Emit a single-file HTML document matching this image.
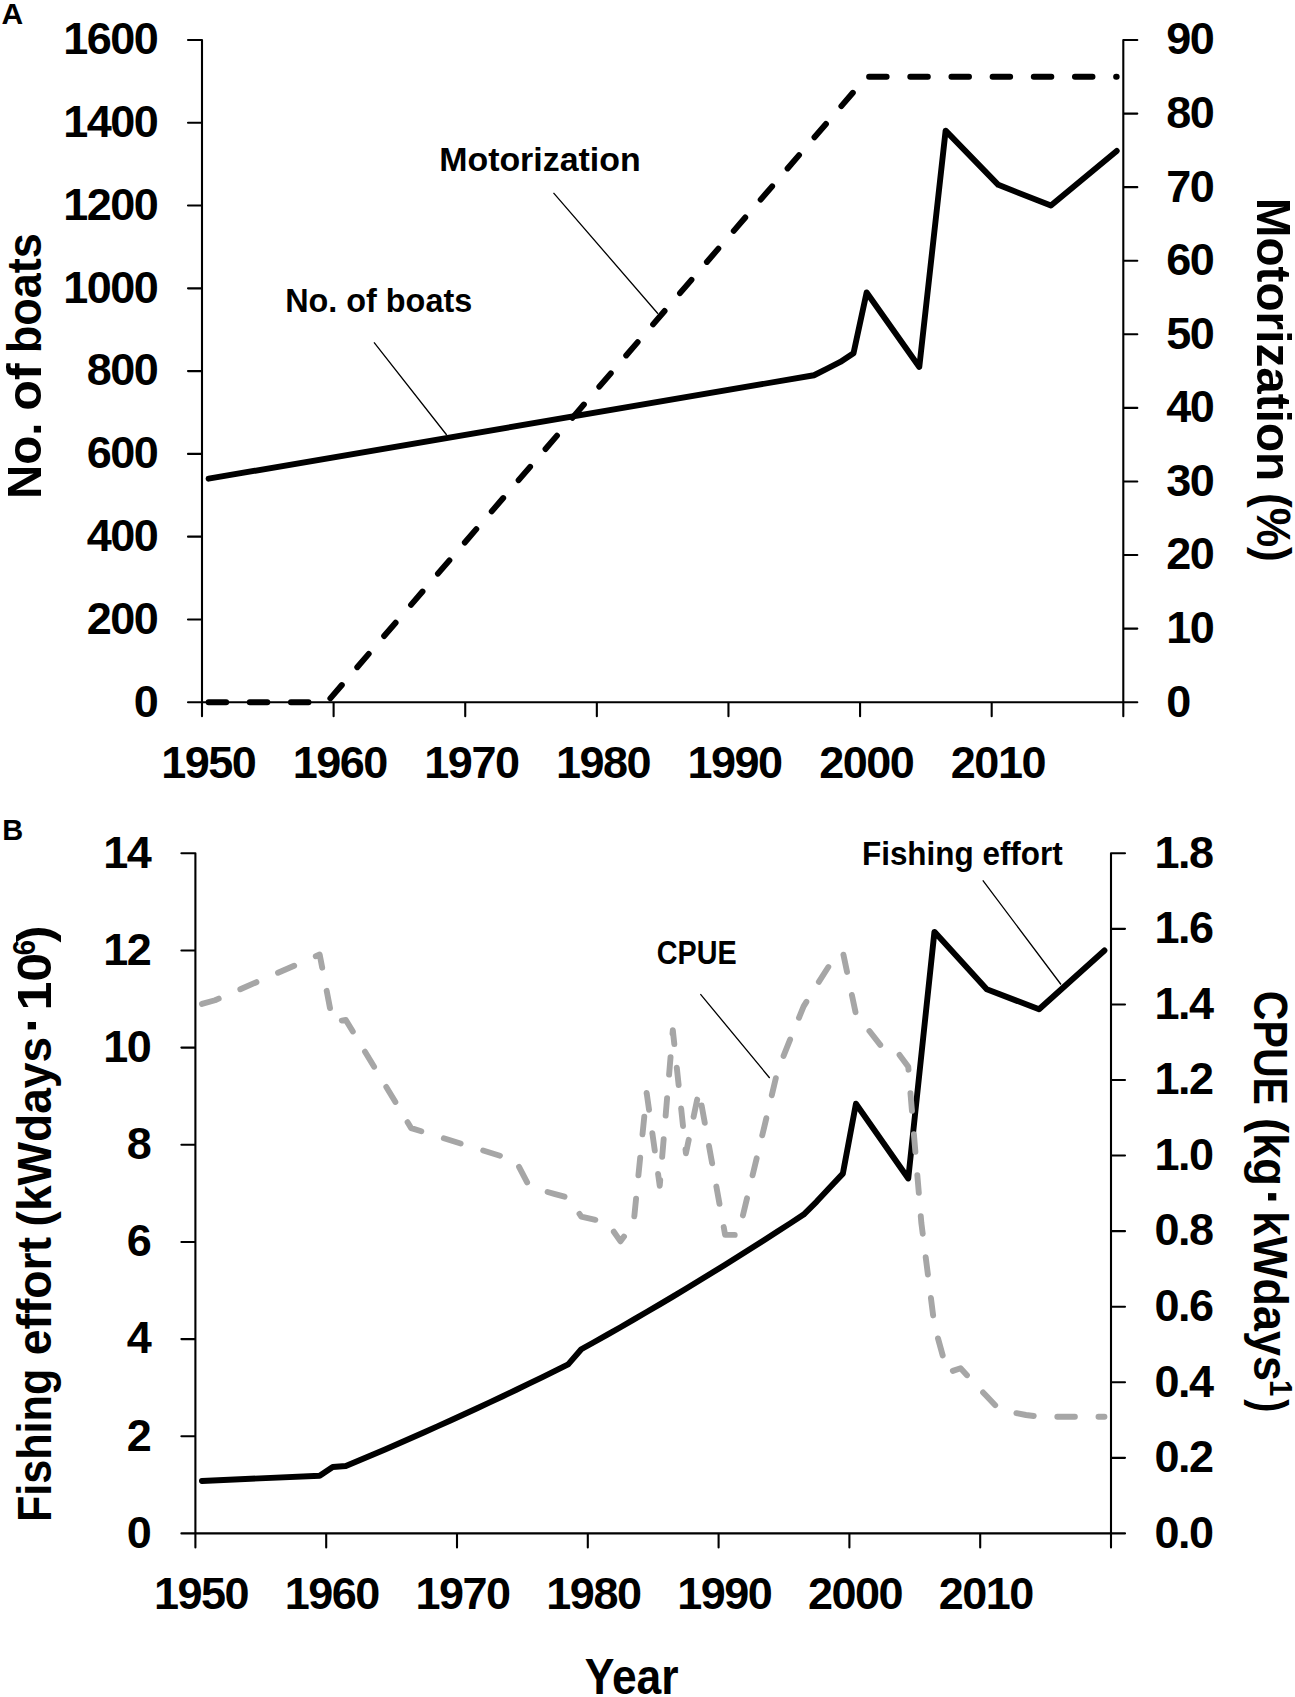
<!DOCTYPE html>
<html lang="en"><head><meta charset="utf-8"><title>Figure: boats, motorization, fishing effort and CPUE</title>
<style>html,body{margin:0;padding:0;background:#fff;overflow:hidden}svg{display:block}</style></head>
<body>
<svg width="1295" height="1697" viewBox="0 0 1295 1697" font-family="'Liberation Sans', Arial, Helvetica, sans-serif" font-weight="bold" fill="#000">
<rect width="1295" height="1697" fill="#fff"/>
<path d="M202.0,40.0V716.2M1123.3,40.0V716.2M188.0,702.2H1137.3M188.0,619.43H202.0M188.0,536.65H202.0M188.0,453.88H202.0M188.0,371.10H202.0M188.0,288.33H202.0M188.0,205.55H202.0M188.0,122.77H202.0M188.0,40.00H202.0M1123.3,628.62H1137.3M1123.3,555.04H1137.3M1123.3,481.47H1137.3M1123.3,407.89H1137.3M1123.3,334.31H1137.3M1123.3,260.73H1137.3M1123.3,187.16H1137.3M1123.3,113.58H1137.3M1123.3,40.00H1137.3M333.61,702.2V716.2M465.23,702.2V716.2M596.84,702.2V716.2M728.46,702.2V716.2M860.07,702.2V716.2M991.69,702.2V716.2" fill="none" stroke="#000" stroke-width="2.1" stroke-linecap="round"/>
<text x="157.3" y="716.5" font-size="45" text-anchor="end" letter-spacing="-1.5">0</text>
<text x="157.3" y="633.7" font-size="45" text-anchor="end" letter-spacing="-1.5">200</text>
<text x="157.3" y="551.0" font-size="45" text-anchor="end" letter-spacing="-1.5">400</text>
<text x="157.3" y="468.2" font-size="45" text-anchor="end" letter-spacing="-1.5">600</text>
<text x="157.3" y="385.4" font-size="45" text-anchor="end" letter-spacing="-1.5">800</text>
<text x="157.3" y="302.6" font-size="45" text-anchor="end" letter-spacing="-1.5">1000</text>
<text x="157.3" y="219.9" font-size="45" text-anchor="end" letter-spacing="-1.5">1200</text>
<text x="157.3" y="137.1" font-size="45" text-anchor="end" letter-spacing="-1.5">1400</text>
<text x="157.3" y="54.3" font-size="45" text-anchor="end" letter-spacing="-1.5">1600</text>
<text x="1166.3" y="716.5" font-size="45" text-anchor="start" letter-spacing="-1.5">0</text>
<text x="1166.3" y="642.9" font-size="45" text-anchor="start" letter-spacing="-1.5">10</text>
<text x="1166.3" y="569.3" font-size="45" text-anchor="start" letter-spacing="-1.5">20</text>
<text x="1166.3" y="495.8" font-size="45" text-anchor="start" letter-spacing="-1.5">30</text>
<text x="1166.3" y="422.2" font-size="45" text-anchor="start" letter-spacing="-1.5">40</text>
<text x="1166.3" y="348.6" font-size="45" text-anchor="start" letter-spacing="-1.5">50</text>
<text x="1166.3" y="275.0" font-size="45" text-anchor="start" letter-spacing="-1.5">60</text>
<text x="1166.3" y="201.5" font-size="45" text-anchor="start" letter-spacing="-1.5">70</text>
<text x="1166.3" y="127.9" font-size="45" text-anchor="start" letter-spacing="-1.5">80</text>
<text x="1166.3" y="54.3" font-size="45" text-anchor="start" letter-spacing="-1.5">90</text>
<text x="208.2" y="778" font-size="45" text-anchor="middle" letter-spacing="-1.5">1950</text>
<text x="201.0" y="1609" font-size="45" text-anchor="middle" letter-spacing="-1.5">1950</text>
<text x="339.8" y="778" font-size="45" text-anchor="middle" letter-spacing="-1.5">1960</text>
<text x="331.8" y="1609" font-size="45" text-anchor="middle" letter-spacing="-1.5">1960</text>
<text x="471.4" y="778" font-size="45" text-anchor="middle" letter-spacing="-1.5">1970</text>
<text x="462.6" y="1609" font-size="45" text-anchor="middle" letter-spacing="-1.5">1970</text>
<text x="603.0" y="778" font-size="45" text-anchor="middle" letter-spacing="-1.5">1980</text>
<text x="593.4" y="1609" font-size="45" text-anchor="middle" letter-spacing="-1.5">1980</text>
<text x="734.6" y="778" font-size="45" text-anchor="middle" letter-spacing="-1.5">1990</text>
<text x="724.2" y="1609" font-size="45" text-anchor="middle" letter-spacing="-1.5">1990</text>
<text x="866.3" y="778" font-size="45" text-anchor="middle" letter-spacing="-1.5">2000</text>
<text x="855.0" y="1609" font-size="45" text-anchor="middle" letter-spacing="-1.5">2000</text>
<text x="997.9" y="778" font-size="45" text-anchor="middle" letter-spacing="-1.5">2010</text>
<text x="985.8" y="1609" font-size="45" text-anchor="middle" letter-spacing="-1.5">2010</text>
<path d="M208.58,702.20L327.03,702.20L866.65,76.79L1116.72,76.79" fill="none" stroke="#000" stroke-width="5.9" stroke-linecap="round" stroke-linejoin="round" stroke-dasharray="17.6 23.57"/>
<path d="M208.58,478.71L814.01,375.24L827.17,368.62L840.33,361.99L853.49,353.30L866.65,292.46L919.30,366.96L945.62,130.64L998.27,184.86L1050.91,205.55L1116.72,150.92" fill="none" stroke="#000" stroke-width="5.9" stroke-linecap="round" stroke-linejoin="round"/>
<path d="M553.5,192.9L658,313.7M374,342.3L446.7,435" fill="none" stroke="#000" stroke-width="1.3"/>
<path d="M195.4,853.3V1547.4M1111.0,853.3V1547.4M181.4,1533.4H1125.0M181.4,1436.24H195.4M181.4,1339.09H195.4M181.4,1241.93H195.4M181.4,1144.77H195.4M181.4,1047.61H195.4M181.4,950.46H195.4M181.4,853.30H195.4M1111.0,1457.83H1125.0M1111.0,1382.27H1125.0M1111.0,1306.70H1125.0M1111.0,1231.13H1125.0M1111.0,1155.57H1125.0M1111.0,1080.00H1125.0M1111.0,1004.43H1125.0M1111.0,928.87H1125.0M1111.0,853.30H1125.0M326.20,1533.4V1547.4M457.00,1533.4V1547.4M587.80,1533.4V1547.4M718.60,1533.4V1547.4M849.40,1533.4V1547.4M980.20,1533.4V1547.4" fill="none" stroke="#000" stroke-width="2.1" stroke-linecap="round"/>
<text x="150.2" y="1547.7" font-size="45" text-anchor="end" letter-spacing="-1.5">0</text>
<text x="150.2" y="1450.5" font-size="45" text-anchor="end" letter-spacing="-1.5">2</text>
<text x="150.2" y="1353.4" font-size="45" text-anchor="end" letter-spacing="-1.5">4</text>
<text x="150.2" y="1256.2" font-size="45" text-anchor="end" letter-spacing="-1.5">6</text>
<text x="150.2" y="1159.1" font-size="45" text-anchor="end" letter-spacing="-1.5">8</text>
<text x="150.2" y="1061.9" font-size="45" text-anchor="end" letter-spacing="-1.5">10</text>
<text x="150.2" y="964.8" font-size="45" text-anchor="end" letter-spacing="-1.5">12</text>
<text x="150.2" y="867.6" font-size="45" text-anchor="end" letter-spacing="-1.5">14</text>
<text x="1154.5" y="1547.7" font-size="45" text-anchor="start" letter-spacing="-1.5">0.0</text>
<text x="1154.5" y="1472.1" font-size="45" text-anchor="start" letter-spacing="-1.5">0.2</text>
<text x="1154.5" y="1396.6" font-size="45" text-anchor="start" letter-spacing="-1.5">0.4</text>
<text x="1154.5" y="1321.0" font-size="45" text-anchor="start" letter-spacing="-1.5">0.6</text>
<text x="1154.5" y="1245.4" font-size="45" text-anchor="start" letter-spacing="-1.5">0.8</text>
<text x="1154.5" y="1169.9" font-size="45" text-anchor="start" letter-spacing="-1.5">1.0</text>
<text x="1154.5" y="1094.3" font-size="45" text-anchor="start" letter-spacing="-1.5">1.2</text>
<text x="1154.5" y="1018.7" font-size="45" text-anchor="start" letter-spacing="-1.5">1.4</text>
<text x="1154.5" y="943.2" font-size="45" text-anchor="start" letter-spacing="-1.5">1.6</text>
<text x="1154.5" y="867.6" font-size="45" text-anchor="start" letter-spacing="-1.5">1.8</text>
<path d="M201.94,1480.98L319.66,1475.69L332.74,1466.99L345.82,1466.02L358.90,1460.56L371.98,1455.03L385.06,1449.43L398.14,1443.78L411.22,1438.05L424.30,1432.27L437.38,1426.42L450.46,1420.51L463.54,1414.53L476.62,1408.49L489.70,1402.38L502.78,1396.21L515.86,1389.97L528.94,1383.68L542.02,1377.31L555.10,1370.89L568.18,1364.40L581.26,1349.29L594.34,1342.01L607.42,1334.64L620.50,1327.20L633.58,1319.68L646.66,1312.07L659.74,1304.39L672.82,1296.62L685.90,1288.77L698.98,1280.85L712.06,1272.84L725.14,1264.75L738.22,1256.58L751.30,1248.33L764.38,1240.00L777.46,1231.59L790.54,1223.10L803.62,1214.53L816.70,1201.61L829.78,1187.52L842.86,1173.63L855.94,1103.72L908.26,1178.48L934.42,931.85L986.74,989.32L1039.06,1009.24L1104.46,950.46" fill="none" stroke="#000" stroke-width="5.9" stroke-linecap="round" stroke-linejoin="round"/>
<path d="M201.94,1003.87L215.02,1000.28L319.66,954.56L332.74,1022.19L345.82,1019.92L411.22,1128.17L515.86,1160.67L528.94,1185.98L542.02,1190.40L555.10,1194.11L568.18,1197.66L581.26,1216.51L594.34,1219.57L607.42,1222.56L620.50,1241.33L633.58,1223.58L646.66,1092.85L659.74,1185.79L672.82,1030.13L685.90,1153.30L698.98,1090.96L725.14,1234.91L738.22,1234.91L751.30,1180.50L764.38,1126.47L777.46,1071.31L790.54,1038.44L803.62,1006.32L816.70,985.24L829.78,964.76L842.86,952.10L855.94,1014.26L869.02,1030.50L882.10,1047.24L895.18,1049.02L908.26,1066.78L921.34,1222.97L934.42,1325.59L947.50,1372.67L960.58,1368.29L973.66,1382.49L986.74,1396.25L999.82,1410.00L1012.90,1412.49L1025.98,1414.99L1039.06,1416.65L1052.14,1416.80L1104.46,1416.80" fill="none" stroke="#a6a6a6" stroke-width="5.9" stroke-linecap="round" stroke-linejoin="round" stroke-dasharray="17.6 23.57"/>
<path d="M982.8,880.4L1061,984.5M700.4,994.1L769.7,1078" fill="none" stroke="#000" stroke-width="1.3"/>
<text x="439.2" y="170.8" font-size="32.5" text-anchor="start" textLength="201.47" lengthAdjust="spacingAndGlyphs">Motorization</text>
<text x="285.2" y="311.8" font-size="32.5" text-anchor="start" textLength="186.97" lengthAdjust="spacingAndGlyphs">No. of boats</text>
<text x="861.96" y="864.8" font-size="32.5" text-anchor="start" textLength="200.79" lengthAdjust="spacingAndGlyphs">Fishing effort</text>
<text x="656.85" y="964.3" font-size="32.5" text-anchor="start" textLength="79.91" lengthAdjust="spacingAndGlyphs">CPUE</text>
<text x="584.73" y="1693.5" font-size="50.5" text-anchor="start" textLength="93.9" lengthAdjust="spacingAndGlyphs">Year</text>
<g transform="translate(40.8,0) rotate(-90)">
<text x="-499.09" y="0" font-size="49" textLength="76.51" lengthAdjust="spacingAndGlyphs">No.</text>
<text x="-410.66" y="0" font-size="49" textLength="47.56" lengthAdjust="spacingAndGlyphs">of</text>
<text x="-353.33" y="0" font-size="49" textLength="120.05" lengthAdjust="spacingAndGlyphs">boats</text>
</g>
<g transform="translate(1256.8,0) rotate(90)">
<text x="197.70" y="0" font-size="49" textLength="283.50" lengthAdjust="spacingAndGlyphs">Motorization</text>
<text x="492.91" y="0" font-size="49" textLength="68.92" lengthAdjust="spacingAndGlyphs">(%)</text>
</g>
<g transform="translate(51.2,0) rotate(-90)">
<text x="-1522.00" y="0" font-size="49" textLength="153.24" lengthAdjust="spacingAndGlyphs">Fishing</text>
<text x="-1355.32" y="0" font-size="49" textLength="118.39" lengthAdjust="spacingAndGlyphs">effort</text>
<text x="-1226.47" y="0" font-size="49" textLength="189.54" lengthAdjust="spacingAndGlyphs">(kWdays</text>
<text x="-1033.01" y="-0.8" font-size="56" textLength="17.45" lengthAdjust="spacingAndGlyphs">·</text>
<text x="-1010.62" y="0" font-size="49" textLength="57.91" lengthAdjust="spacingAndGlyphs">10</text>
<text x="-955.17" y="-16.5" font-size="31" textLength="15.37" lengthAdjust="spacingAndGlyphs">6</text>
<text x="-942.40" y="0" font-size="49" textLength="17.06" lengthAdjust="spacingAndGlyphs">)</text>
</g>
<g transform="translate(1253.6,0) rotate(90)">
<text x="990.75" y="0" font-size="49" textLength="114.27" lengthAdjust="spacingAndGlyphs">CPUE</text>
<text x="1117.96" y="0" font-size="49" textLength="68.13" lengthAdjust="spacingAndGlyphs">(kg</text>
<text x="1189.59" y="-0.8" font-size="56" textLength="17.45" lengthAdjust="spacingAndGlyphs">·</text>
<text x="1211.08" y="0" font-size="49" textLength="170.05" lengthAdjust="spacingAndGlyphs">kWdays</text>
<text x="1380.04" y="-16.5" font-size="31" textLength="16.33" lengthAdjust="spacingAndGlyphs">1</text>
<text x="1399.30" y="0" font-size="49" textLength="13.20" lengthAdjust="spacingAndGlyphs">)</text>
</g>
<text x="1.5" y="24" font-size="30" text-anchor="start">A</text>
<text x="2.3" y="839.6" font-size="29" text-anchor="start">B</text>
</svg>
</body></html>
